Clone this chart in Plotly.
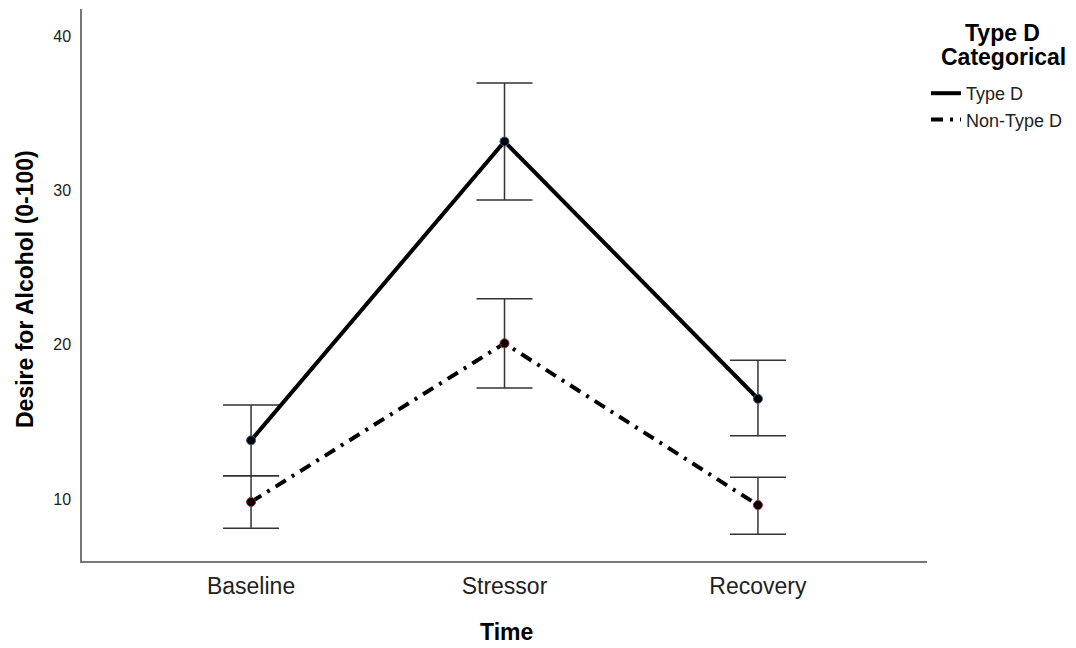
import plotly.graph_objects as go

time_points = ["Baseline", "Stressor", "Recovery"]

typed_mean = [13.8, 33.2, 16.5]
typed_upper = [16.1, 37.0, 19.0]
typed_lower = [11.5, 29.4, 14.1]

nontyped_mean = [9.8, 20.1, 9.6]
nontyped_upper = [11.5, 23.0, 11.4]
nontyped_lower = [8.1, 17.2, 7.7]

series = [
    ("Type D", typed_mean, typed_upper, typed_lower, "solid", "#3a5f8f"),
    ("Non-Type D", nontyped_mean, nontyped_upper, nontyped_lower, "12px,7px,3px,7px", "#a0283c"),
]

# page is rendered with an 8px body margin, so the figure is 8px smaller
OFF = 8
W, H = 1068, 640
L, R, T, B = 74, 149, 1, 87
PW, PH = W - L - R, H - T - B


def px_x(p):
    return (p - OFF - L) / PW


def px_y(p):
    return (H - B - (p - OFF)) / PH


fig = go.Figure()
for name, m, u, lo, dash, edge in series:
    fig.add_trace(go.Scatter(
        x=time_points, y=m, name=name, mode="markers", showlegend=False,
        marker=dict(size=9, color="rgba(0,0,0,0)", line=dict(width=0)),
        error_y=dict(type="data", symmetric=False,
                     array=[a - b for a, b in zip(u, m)],
                     arrayminus=[b - c for b, c in zip(m, lo)],
                     color="#333333", thickness=1.5, width=28),
    ))
for name, m, u, lo, dash, edge in series:
    fig.add_trace(go.Scatter(
        x=time_points, y=m, name=name, mode="lines",
        line=dict(color="black", width=4, dash=dash),
    ))
    fig.add_trace(go.Scatter(
        x=time_points, y=m, name=name, mode="markers", showlegend=False,
        marker=dict(size=9, color="black", line=dict(color=edge, width=1)),
    ))

fig.update_layout(
    width=W, height=H,
    margin=dict(l=L, r=R, t=T, b=B, autoexpand=False),
    paper_bgcolor="white", plot_bgcolor="white",
    font=dict(family="Liberation Sans, Arial, sans-serif", color="#222222"),
    showlegend=True,
    legend=dict(
        x=px_x(926), xanchor="left", y=px_y(75), yanchor="top",
        font=dict(size=18, color="#222222"),
        itemwidth=30, tracegroupgap=0, bgcolor="rgba(0,0,0,0)",
    ),
    xaxis=dict(
        range=[-0.667, 2.667], showline=True, linecolor="#777777", linewidth=1.5,
        showgrid=False, zeroline=False, ticks="", automargin=False,
        tickfont=dict(size=23, color="#222222"), ticklabelstandoff=4,
    ),
    yaxis=dict(
        range=[5.97, 41.8], showline=True, linecolor="#777777", linewidth=1.5,
        showgrid=False, zeroline=False, ticks="", automargin=False,
        tickvals=[10, 20, 30, 40], ticklabelstandoff=6,
        tickfont=dict(size=16, color="#222222"),
    ),
    annotations=[
        dict(text="<b>Desire for Alcohol (0-100)</b>", xref="paper", yref="paper",
             x=px_x(25), y=px_y(289), xanchor="center", yanchor="middle",
             textangle=-90, showarrow=False, font=dict(size=23, color="black")),
        dict(text="<b>Time</b>", xref="paper", yref="paper",
             x=px_x(506), y=px_y(632), xanchor="center", yanchor="middle",
             showarrow=False, font=dict(size=23, color="black")),
        dict(text="<b>Type D</b>", xref="paper", yref="paper",
             x=px_x(1002), y=px_y(33), xanchor="center", yanchor="middle",
             showarrow=False, font=dict(size=23, color="black")),
        dict(text="<b>Categorical</b>", xref="paper", yref="paper",
             x=px_x(1003), y=px_y(57), xanchor="center", yanchor="middle",
             showarrow=False, font=dict(size=23, color="black")),
    ],
)

fig.write_html("out.html")
